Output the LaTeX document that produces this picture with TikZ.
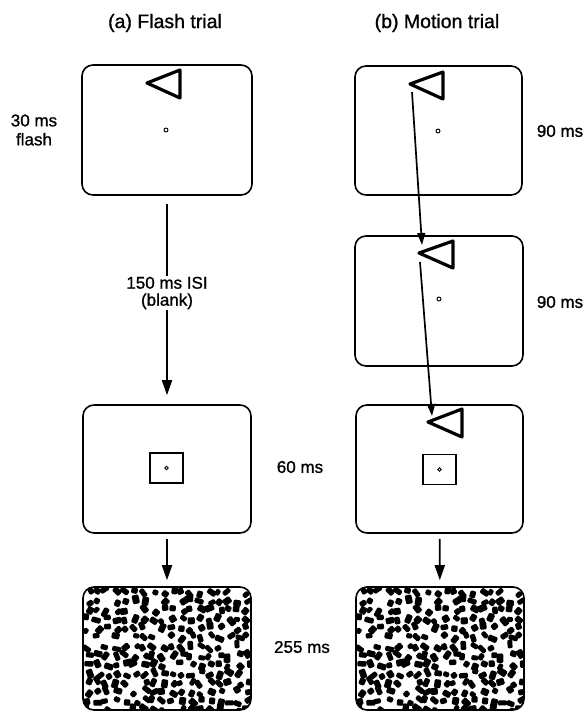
\documentclass[tikz,border=0pt]{standalone}
\usepackage{fontspec}
\setmainfont{Liberation Sans}
\newfontfamily\heavyfont[FakeBold=1.0]{Liberation Sans}
\usetikzlibrary{arrows.meta}
\tikzset{
  screen/.style={draw, line width=1.6pt, rounded corners=11pt, minimum width=168pt, minimum height=129pt, inner sep=0pt},
  stim/.style={line width=3.2pt, line join=round},
  fixdot/.style={draw, circle, minimum size=4pt, inner sep=0pt, line width=0.9pt},
  frame/.style={draw, line width=1.1pt, minimum width=33pt, minimum height=30pt, inner sep=0pt},
  title/.style={font=\heavyfont\fontsize{19.5}{22}\selectfont},
  lbl/.style={font=\heavyfont\fontsize{17}{19}\selectfont, align=center},
  bigarrow/.style={line width=1.8pt, -{Triangle[width=10pt,length=15pt]}},
  plainline/.style={line width=1.8pt},
  motarrow/.style={line width=1.7pt, -{Triangle[width=8pt,length=12pt]}}
}
\newcommand\mynoise[4]{%
  \begin{scope}
    \clip[rounded corners=11pt] (#1,#2) rectangle (#3,#4);
    \pgfmathsetseed{4711}
    \foreach \i in {0,...,17}{
      \foreach \j in {0,...,13}{
        \pgfmathsetmacro\px{#1+5+\i*9.4+rand*2.6}
        \pgfmathsetmacro\py{#2+5+\j*9.1+rand*2.6}
        \pgfmathsetmacro\w{2.8+rnd*2.0}
        \pgfmathsetmacro\h{2.4+rnd*1.1}
        \pgfmathsetmacro\ang{rnd*180}
        \pgfmathsetmacro\keep{rnd}
        \ifdim\keep pt<0.92pt
          \fill[rotate around={\ang:(\px,\py)}, rounded corners=1.2pt] (\px-\w,\py-\h) rectangle (\px+\w,\py+\h);
        \fi
      }
    }
  \end{scope}}
\begin{document}
\begin{tikzpicture}[x=1pt, y=-1pt]
\useasboundingbox (0,0) rectangle (586,712);
\fill[white] (0,0) rectangle (586,712);

% titles
\node[title] (ta) at (165,23) {(a) Flash trial};
\node[title] (tb) at (437,23) {(b) Motion trial};

% noise in the mask screens (drawn first, border on top)
\mynoise{83}{587}{251}{710}
\mynoise{356}{587}{524}{710}

% screens, flash trial
\node[screen, minimum width=170pt, minimum height=130pt] (L1) at (167,130) {};
\node[screen, minimum height=128pt] (L3) at (167,469) {};
\node[screen, minimum height=123pt] (L4) at (167,648.5) {};

% screens, motion trial
\node[screen, minimum width=167pt] (R1) at (438.5,130.5) {};
\node[screen, minimum height=130pt] (R2) at (439,301) {};
\node[screen, minimum width=167pt, minimum height=128pt] (R3) at (439.5,469) {};
\node[screen, minimum height=123pt] (R4) at (440,648.5) {};

% fixation points
\node[fixdot] (dL1) at (166,130) {};
\node[fixdot] (dR1) at (438,131) {};
\node[fixdot] (dR2) at (439,299) {};
\node[frame] (fL3) at (166.5,468) {};
\node[fixdot, minimum size=3.5pt] (dL3) at (fL3) {};
\node[frame] (fR3) at (439.5,469.5) {};
\node[fixdot, minimum size=3.5pt] (dR3) at (fR3) {};

% triangles
\coordinate (tL1) at (147,83);
\draw[stim] (tL1) -- (180,70) -- (180,98) -- cycle;
\coordinate (tR1) at (410,84);
\draw[stim] (tR1) -- (443,72) -- (443,99) -- cycle;
\coordinate (tR2) at (419,253);
\draw[stim] (tR2) -- (453,241) -- (453,268) -- cycle;
\coordinate (tR3) at (428,422);
\draw[stim] (tR3) -- (462,409) -- (462,437) -- cycle;

% labels
\node[lbl] (l30) at (34,130) {30 ms\\flash};
\node[lbl] (l90a) at (560,131) {90 ms};
\node[lbl] (l90b) at (560,302) {90 ms};
\node[lbl] (l60) at (300,467) {60 ms};
\node[lbl] (l255) at (302,647) {255 ms};
\node[lbl, font=\heavyfont\fontsize{17}{17}\selectfont, inner xsep=0pt, inner ysep=1pt] (isi) at (167,293) {150 ms ISI\\(blank)};

% flash trial connectors
\draw[plainline, shorten <=8pt] (L1) -- (isi);
\draw[bigarrow, shorten >=9pt] (isi) -- (L3);
\draw[bigarrow, shorten <=5pt, shorten >=6pt] (L3) -- (L4);

% motion trial connectors
\coordinate (m1s) at (412,92);
\coordinate (m1e) at (422,245);
\coordinate (m2s) at (420,262);
\coordinate (m2e) at (432,416);
\draw[motarrow] (m1s) -- (m1e);
\draw[motarrow] (m2s) -- (m2e);
\draw[bigarrow, shorten <=5pt, shorten >=6pt] (R3) -- (R4);
\end{tikzpicture}
\end{document}
